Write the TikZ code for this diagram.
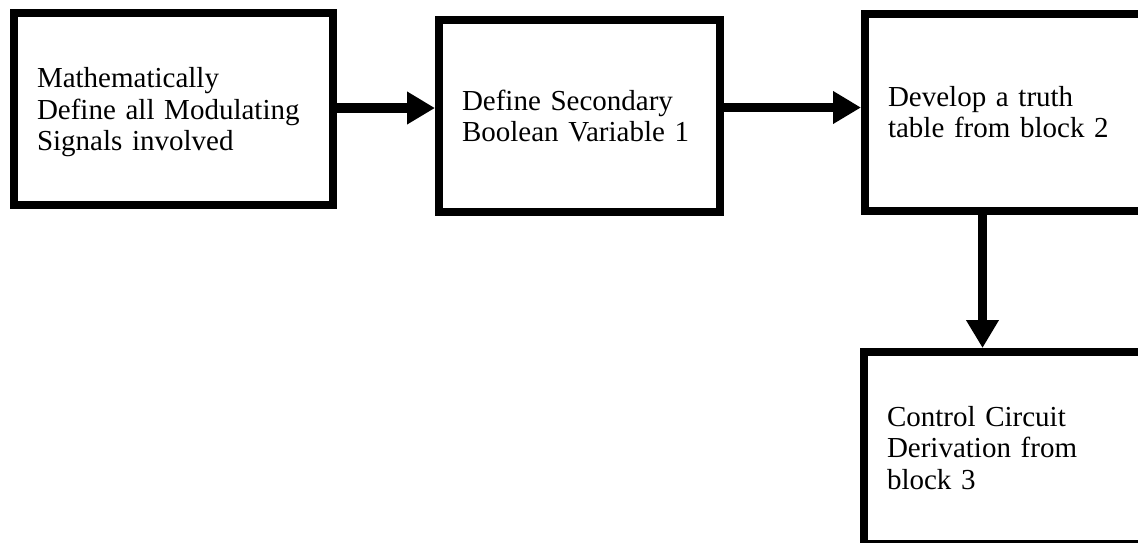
\documentclass[tikz,border=0pt]{standalone}
\usepackage{fontspec}
\setmainfont{Liberation Serif}
\usetikzlibrary{arrows.meta}
\begin{document}
\begin{tikzpicture}[x=1pt,y=-1pt,
  box/.style={draw=black,line width=8pt,fill=white,align=left,inner xsep=23pt,
    font={\fontsize{29}{31.5}\selectfont}},
  arr/.style={line width=9.5pt,-{Triangle[width=31pt,length=28pt]}}]
\useasboundingbox (0,0) rectangle (1138,542);
\clip (0,0) rectangle (1138,542);
\fill[white] (0,0) rectangle (1138,542);
\node[box,minimum width=319pt,minimum height=192pt,text width=273pt] (b1) at (173.5,109)
  {Mathematically\\Define all Modulating\\\raisebox{0pt}[\height][0pt]{Signals involved}};
\node[box,minimum width=281pt,minimum height=192pt,text width=235pt] (b2) at (579.5,116)
  {Define Secondary\\Boolean Variable 1};
\node[box,minimum width=300pt,minimum height=197.5pt,text width=254pt] (b3) at (1015,112.25)
  {Develop a truth\\table from block 2};
\node[box,minimum width=300pt,minimum height=192pt,text width=254pt] (b4) at (1014,448)
  {Control Circuit\\Derivation from\\block 3};
\coordinate (y1) at (0,108);
\coordinate (y2) at (0,107.5);
\coordinate (x3) at (982.5,0);
\draw[arr] (b1.east |- y1) -- (b2.west |- y1);
\draw[arr] (b2.east |- y2) -- (b3.west |- y2);
\draw[arr] (b3.south -| x3) -- (b4.north -| x3);
\end{tikzpicture}
\end{document}
